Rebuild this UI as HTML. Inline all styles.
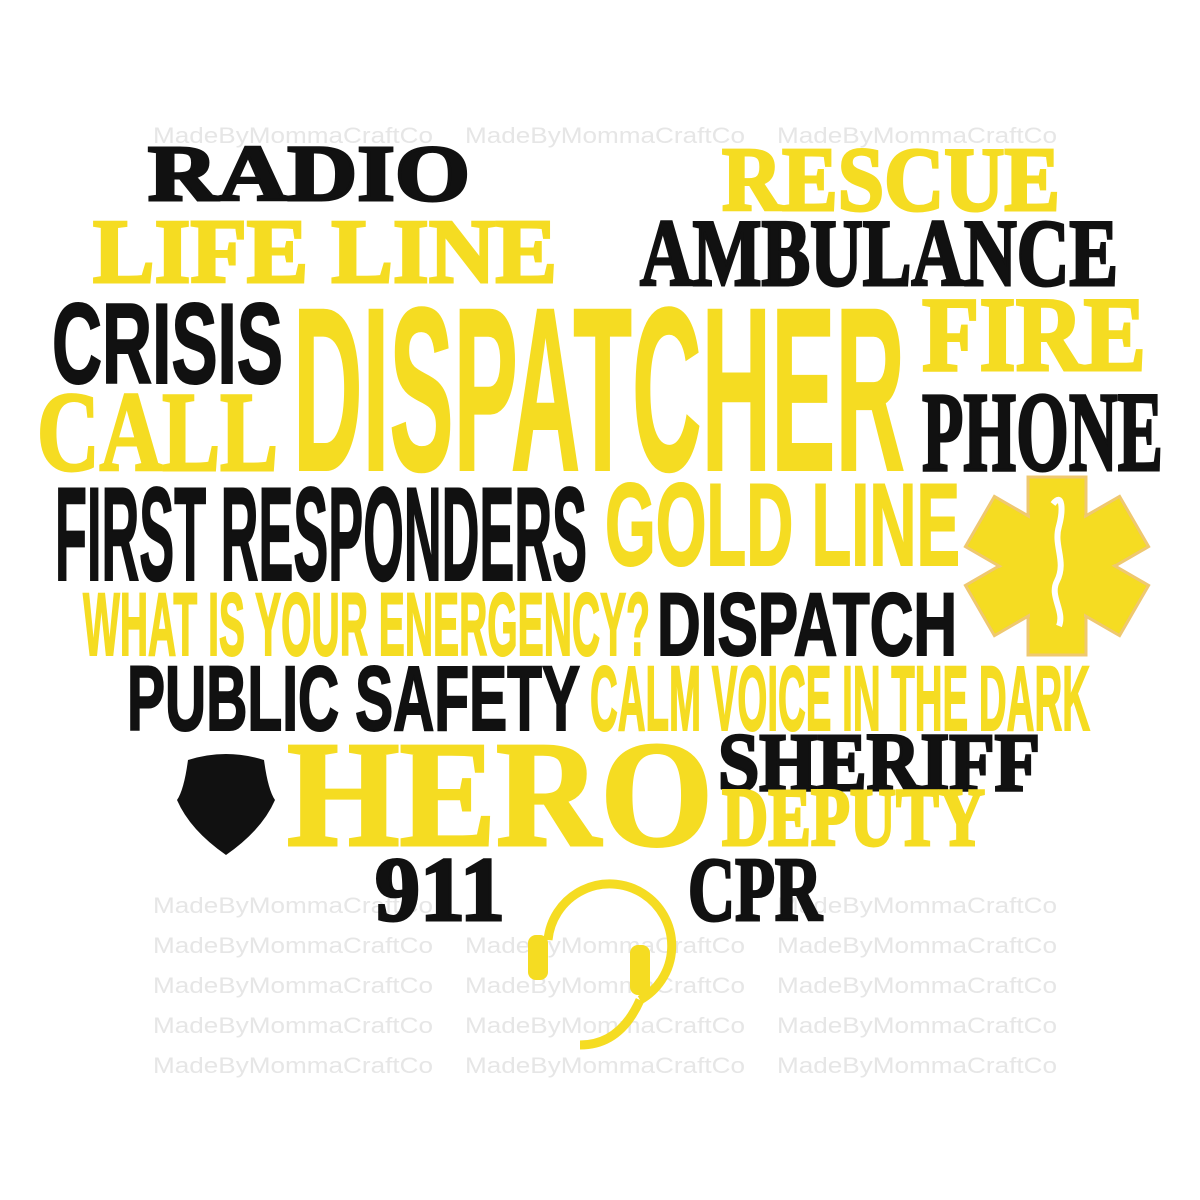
<!DOCTYPE html>
<html><head><style>body{margin:0;background:#fff}svg{display:block}</style></head><body>
<svg width="1200" height="1200" xmlns="http://www.w3.org/2000/svg">
<g font-family="Liberation Sans, sans-serif" font-size="22" fill="#e6e6e6">
<text x="153" y="143" textLength="280" lengthAdjust="spacingAndGlyphs">MadeByMommaCraftCo</text>
<text x="465" y="143" textLength="280" lengthAdjust="spacingAndGlyphs">MadeByMommaCraftCo</text>
<text x="777" y="143" textLength="280" lengthAdjust="spacingAndGlyphs">MadeByMommaCraftCo</text>
<text x="153" y="913" textLength="280" lengthAdjust="spacingAndGlyphs">MadeByMommaCraftCo</text>
<text x="777" y="913" textLength="280" lengthAdjust="spacingAndGlyphs">MadeByMommaCraftCo</text>
<text x="153" y="953" textLength="280" lengthAdjust="spacingAndGlyphs">MadeByMommaCraftCo</text>
<text x="465" y="953" textLength="280" lengthAdjust="spacingAndGlyphs">MadeByMommaCraftCo</text>
<text x="777" y="953" textLength="280" lengthAdjust="spacingAndGlyphs">MadeByMommaCraftCo</text>
<text x="153" y="993" textLength="280" lengthAdjust="spacingAndGlyphs">MadeByMommaCraftCo</text>
<text x="465" y="993" textLength="280" lengthAdjust="spacingAndGlyphs">MadeByMommaCraftCo</text>
<text x="777" y="993" textLength="280" lengthAdjust="spacingAndGlyphs">MadeByMommaCraftCo</text>
<text x="153" y="1033" textLength="280" lengthAdjust="spacingAndGlyphs">MadeByMommaCraftCo</text>
<text x="465" y="1033" textLength="280" lengthAdjust="spacingAndGlyphs">MadeByMommaCraftCo</text>
<text x="777" y="1033" textLength="280" lengthAdjust="spacingAndGlyphs">MadeByMommaCraftCo</text>
<text x="153" y="1073" textLength="280" lengthAdjust="spacingAndGlyphs">MadeByMommaCraftCo</text>
<text x="465" y="1073" textLength="280" lengthAdjust="spacingAndGlyphs">MadeByMommaCraftCo</text>
<text x="777" y="1073" textLength="280" lengthAdjust="spacingAndGlyphs">MadeByMommaCraftCo</text>
</g>
<g font-family="Liberation Serif, serif" font-weight="bold" lengthAdjust="spacingAndGlyphs" stroke-width="3">
<text x="148" y="200" font-size="79" textLength="322" lengthAdjust="spacingAndGlyphs" fill="#111" stroke="#111">RADIO</text>
<text x="722" y="210" font-size="91" textLength="338" lengthAdjust="spacingAndGlyphs" fill="#f5dc22" stroke="#f5dc22">RESCUE</text>
<text x="93" y="282" font-size="91" textLength="464" lengthAdjust="spacingAndGlyphs" fill="#f5dc22" stroke="#f5dc22">LIFE LINE</text>
<text x="640" y="285" font-size="95" textLength="478" lengthAdjust="spacingAndGlyphs" fill="#111" stroke="#111">AMBULANCE</text>
<text x="922" y="370" font-size="106" textLength="224" lengthAdjust="spacingAndGlyphs" fill="#f5dc22" stroke="#f5dc22">FIRE</text>
<text x="37" y="470" font-size="113" textLength="241" lengthAdjust="spacingAndGlyphs" fill="#f5dc22" stroke="#f5dc22">CALL</text>
<text x="922" y="470" font-size="113" textLength="241" lengthAdjust="spacingAndGlyphs" fill="#111" stroke="#111">PHONE</text>
<text x="287" y="845" font-size="151" textLength="426" lengthAdjust="spacingAndGlyphs" fill="#f5dc22" stroke="#f5dc22">HERO</text>
<text x="718" y="790" font-size="83" textLength="322" lengthAdjust="spacingAndGlyphs" fill="#111" stroke="#111">SHERIFF</text>
<text x="722" y="845" font-size="83" textLength="263" lengthAdjust="spacingAndGlyphs" fill="#f5dc22" stroke="#f5dc22">DEPUTY</text>
<text x="375" y="920" font-size="91" textLength="130" lengthAdjust="spacingAndGlyphs" fill="#111" stroke="#111">911</text>
<text x="688" y="920" font-size="91" textLength="134" lengthAdjust="spacingAndGlyphs" fill="#111" stroke="#111">CPR</text>
</g>
<g font-family="Liberation Sans, sans-serif" font-weight="bold" stroke-width="2">
<text x="52" y="383" font-size="114" textLength="231" lengthAdjust="spacingAndGlyphs" fill="#111" stroke="#111">CRISIS</text>
<text x="293" y="470" font-size="233" textLength="612" lengthAdjust="spacingAndGlyphs" fill="#f5dc22" stroke="#f5dc22">DISPATCHER</text>
<text x="55" y="580" font-size="133" textLength="532" lengthAdjust="spacingAndGlyphs" fill="#111" stroke="#111">FIRST RESPONDERS</text>
<text x="605" y="565" font-size="117" textLength="355" lengthAdjust="spacingAndGlyphs" fill="#f5dc22" stroke="#f5dc22">GOLD LINE</text>
<text x="83" y="655" font-size="89" textLength="567" lengthAdjust="spacingAndGlyphs" fill="#f5dc22" stroke="#f5dc22">WHAT IS YOUR ENERGENCY?</text>
<text x="657" y="655" font-size="89" textLength="300" lengthAdjust="spacingAndGlyphs" fill="#111" stroke="#111">DISPATCH</text>
<text x="127" y="730" font-size="92" textLength="453" lengthAdjust="spacingAndGlyphs" fill="#111" stroke="#111">PUBLIC SAFETY</text>
<text x="590" y="730" font-size="92" textLength="500" lengthAdjust="spacingAndGlyphs" fill="#f5dc22" stroke="#f5dc22">CALM VOICE IN THE DARK</text>
</g>
<g transform="translate(1057,566)" fill="#f5dc22" stroke="#efc870" stroke-width="3">
<rect x="-29" y="-89" width="58" height="178"/>
<rect x="-29" y="-89" width="58" height="178" transform="rotate(60)"/>
<rect x="-29" y="-89" width="58" height="178" transform="rotate(120)"/>
<rect x="-27" y="-87" width="54" height="174" stroke="none"/>
<rect x="-27" y="-87" width="54" height="174" stroke="none" transform="rotate(60)"/>
<path d="M-4,-62 C6,-75 6,-55 2,-40 C-4,-20 10,-5 0,15 C-8,30 8,45 2,60" fill="none" stroke="#fff" stroke-width="6"/>
</g>
<path d="M188,760 Q226,748 264,760 Q268,790 275,800 Q262,830 226,855 Q190,830 177,800 Q184,790 188,760 Z" fill="#111"/>
<g fill="none" stroke="#f5dc22" stroke-width="9">
<path d="M548,940 A62,62 0 1 1 640,1000"/>
<path d="M640,1000 Q620,1045 580,1045"/>
</g>
<rect x="528" y="935" width="20" height="45" rx="8" fill="#f5dc22"/>
<rect x="630" y="945" width="20" height="50" rx="8" fill="#f5dc22"/>
</svg>
</body></html>
